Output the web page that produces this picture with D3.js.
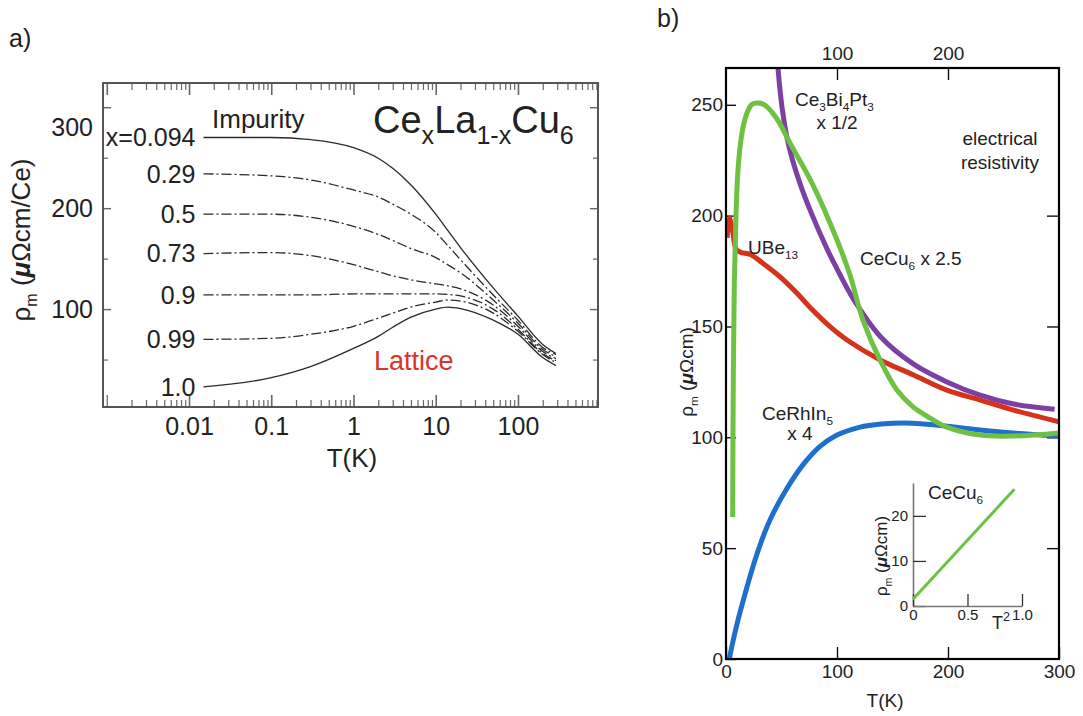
<!DOCTYPE html>
<html><head><meta charset="utf-8">
<script src="https://cdn.jsdelivr.net/npm/d3@7"></script>
<style>
body{margin:0;background:#fff;}
svg{display:block;}
</style></head><body>
<svg id="chart" width="1083" height="716"></svg>
<script>
// ---------- Panel a) data: CexLa1-xCu6, rho_m (uOhm cm / Ce) vs T (K), log T ----------
const tempA = [0.015, 0.1, 0.3, 1, 2, 3, 5, 10, 14, 20, 50, 100, 200, 290];
const rhoImp   = [270, 270, 268, 260, 249.5, 239.5, 223, 194, 178, 161, 121, 93, 65, 56];
const rho029   = [234, 232, 228, 218, 211, 204, 194, 176, 163, 149, 114, 89, 62, 55];
const rho05    = [194, 194, 191, 182, 174, 168, 160, 151, 144, 136, 109, 86, 60, 53];
const rho073   = [155, 156, 153, 144, 137, 133, 129, 125, 123, 120, 104, 83, 58, 51];
const rho09    = [114, 114, 114, 115, 115, 115, 115, 115, 114.5, 113, 100, 80, 56, 49];
const rho099   = [70, 71, 75, 83, 91, 96, 102, 107, 109, 108, 96, 78, 55, 47];
const rhoLat   = [23, 32, 43, 61, 73, 82, 92, 100, 102, 100.5, 89, 75, 52, 44];
const concLabels = ["x=0.094", "0.29", "0.5", "0.73", "0.9", "0.99", "1.0"];
const xTicksA = [0.01, 0.1, 1, 10, 100];
const xTickLabelsA = ["0.01", "0.1", "1", "10", "100"];
const yTicksA = [100, 200, 300];

// ---------- Panel b) data: rho_m (uOhm cm) vs T (K) ----------
const tempPurple = [46, 48, 51, 55, 60, 67, 77, 91, 100, 114, 139, 169, 199, 229, 259, 296];
const rhoPurple  = [272, 260, 247, 235, 225, 214, 201, 185, 176, 163, 145.5, 133, 125, 119, 115, 112.7];
const tempGreen = [6, 6.5, 7.5, 9, 11, 14, 18, 23.4, 28.8, 35, 46, 57.7, 78.4, 100, 111.7, 123.4, 138.7, 154, 168.5, 183.8, 199, 229, 259, 300];
const rhoGreen  = [64, 120, 170, 200, 222, 236, 245, 250.2, 250.8, 249.9, 243.6, 232.7, 213.8, 189, 173.2, 152.9, 134.9, 121.3, 113.7, 108.7, 104.6, 101, 100.6, 102];
const tempRed = [1, 3, 6, 9, 13, 22, 33, 49, 64, 78, 94, 109, 139, 169, 199, 229, 259, 300];
const rhoRed  = [190, 199, 193, 185, 183.5, 182.5, 178.6, 172.3, 165, 157.4, 149.8, 143.9, 134.9, 128.1, 121.3, 116.8, 112.3, 107];
const tempBlue = [3, 6.3, 12.6, 28, 39.6, 55, 70, 85, 100, 120, 140, 168, 199, 229, 259, 300];
const rhoBlue  = [0, 8, 21, 47.5, 62.7, 77, 88, 96, 101, 104.5, 106, 106.4, 105, 103.3, 101.9, 100.6];
const xTicksB = [0, 100, 200, 300];
const xTopTicksB = [100, 200];
const yTicksB = [0, 50, 100, 150, 200, 250];
const yRightTicksB = [50, 100, 150, 200];
// inset: CeCu6 rho vs T^2
const insetT2 = [0, 0.93];
const insetRho = [1.5, 25.9];
const insetXTicks = [0, 0.5, 1.0];
const insetXTickLabels = ["0", "0.5", "1.0"];
const insetYTicks = [0, 10, 20];

// ---------- helpers ----------
const FONT = "'Liberation Sans', Arial, Helvetica, sans-serif";
const svg = d3.select('#chart').attr('font-family', FONT);

function richText(g, x, y, parts, size, opts = {}) {
  const t = g.append('text').attr('font-size', size)
    .attr('text-anchor', opts.anchor || 'start').attr('fill', opts.fill || '#222');
  if (opts.rotate) t.attr('transform', `translate(${x},${y}) rotate(${opts.rotate})`);
  else t.attr('x', x).attr('y', y);
  let shift = 0;
  const subScale = opts.subScale || 0.62;
  parts.forEach(p => {
    const ts = t.append('tspan').text(p.t);
    const target = p.sub ? size * 0.28 : (p.sup ? -size * 0.42 : 0);
    if (target - shift !== 0) ts.attr('dy', target - shift);
    shift = target;
    if (p.sub || p.sup) ts.attr('font-size', size * subScale);
    if (p.bold) ts.attr('font-weight', 'bold');
    if (p.italic) ts.attr('font-style', 'italic');
  });
  return t;
}
function styleAxis(g, color, width, fsize, fill) {
  g.attr('font-family', null).attr('font-size', null);
  g.select('.domain').remove();
  g.selectAll('.tick line').attr('stroke', color).attr('stroke-width', width);
  g.selectAll('.tick text').attr('fill', fill || '#222').attr('font-size', fsize).attr('font-family', FONT);
}

// ================= Panel a =================
const gA = svg.append('g');
const xA = d3.scaleLog().domain([0.0009, 940]).range([103, 598]);
const yA = d3.scaleLinear().domain([3, 324]).range([407, 83]);
const A = {l: 103, r: 598, t: 83, b: 407};
const axisColA = '#666';

const minorA = [];
for (let e = -3; e <= 2; e++) for (let m = 2; m <= 9; m++) {
  const v = m * Math.pow(10, e);
  if (v >= 0.0009 && v <= 940) minorA.push(v);
}
const majorNoLab = [0.001];
const minorY = [50, 150, 250];

gA.append('g').attr('transform', `translate(0,${A.b})`)
  .call(d3.axisBottom(xA).tickValues(minorA).tickSize(-7).tickFormat(''))
  .call(g => styleAxis(g, axisColA, 1.2, 25));
gA.append('g').attr('transform', `translate(0,${A.b})`)
  .call(d3.axisBottom(xA).tickValues(majorNoLab).tickSize(-12).tickFormat(''))
  .call(g => styleAxis(g, axisColA, 1.2, 25));
gA.append('g').attr('transform', `translate(0,${A.b})`)
  .call(d3.axisBottom(xA).tickValues(xTicksA).tickSize(-12).tickPadding(10)
        .tickFormat((d, i) => xTickLabelsA[i]))
  .call(g => styleAxis(g, axisColA, 1.6, 25));
gA.append('g').attr('transform', `translate(0,${A.t})`)
  .call(d3.axisTop(xA).tickValues(minorA).tickSize(-7).tickFormat(''))
  .call(g => styleAxis(g, axisColA, 1.2, 25));
gA.append('g').attr('transform', `translate(0,${A.t})`)
  .call(d3.axisTop(xA).tickValues(majorNoLab.concat(xTicksA)).tickSize(-12).tickFormat(''))
  .call(g => styleAxis(g, axisColA, 1.6, 25));
gA.append('g').attr('transform', `translate(${A.l},0)`)
  .call(d3.axisLeft(yA).tickValues(minorY).tickSize(-5).tickFormat(''))
  .call(g => styleAxis(g, axisColA, 1.2, 25));
gA.append('g').attr('transform', `translate(${A.l},0)`)
  .call(d3.axisLeft(yA).tickValues(yTicksA).tickSize(-8).tickPadding(10))
  .call(g => styleAxis(g, axisColA, 1.4, 25))
  .call(g => g.selectAll('.tick text').filter(d => d === 300).attr('transform', 'translate(0,20)'));
gA.append('g').attr('transform', `translate(${A.r},0)`)
  .call(d3.axisRight(yA).tickValues(minorY).tickSize(-5).tickFormat(''))
  .call(g => styleAxis(g, axisColA, 1.2, 25));
gA.append('g').attr('transform', `translate(${A.r},0)`)
  .call(d3.axisRight(yA).tickValues(yTicksA).tickSize(-8).tickFormat(''))
  .call(g => styleAxis(g, axisColA, 1.4, 25));
gA.append('rect').attr('x', A.l).attr('y', A.t).attr('width', A.r - A.l).attr('height', A.b - A.t)
  .attr('fill', 'none').attr('stroke', '#555').attr('stroke-width', 2);

const seriesA = [
  {vals: rhoImp, dash: null},
  {vals: rho029, dash: '10,3,2,3'},
  {vals: rho05, dash: '10,3,2,3'},
  {vals: rho073, dash: '10,3,2,3'},
  {vals: rho09, dash: '10,3,2,3'},
  {vals: rho099, dash: '10,3,2,3'},
  {vals: rhoLat, dash: null}
];
const lineA = d3.line().x(d => xA(d[0])).y(d => yA(d[1])).curve(d3.curveMonotoneX);
seriesA.forEach((s, i) => {
  const pts = tempA.map((t, j) => [t, s.vals[j]]);
  gA.append('path').attr('d', lineA(pts)).attr('fill', 'none')
    .attr('stroke', '#2a2a2a').attr('stroke-width', 1.3)
    .attr('stroke-dasharray', s.dash);
  gA.append('text').attr('x', xA(tempA[0]) - 8).attr('y', yA(s.vals[0])).attr('dy', '0.35em')
    .attr('text-anchor', 'end').attr('font-size', 25).attr('fill', '#222').text(concLabels[i]);
});
gA.append('text').attr('x', 212).attr('y', 128).attr('font-size', 26).attr('fill', '#222').text('Impurity');
gA.append('text').attr('x', 374).attr('y', 370).attr('font-size', 27).attr('fill', '#d8352a').text('Lattice');
richText(gA, 373, 133, [{t: 'Ce'}, {t: 'x', sub: true}, {t: 'La'}, {t: '1-x', sub: true}, {t: 'Cu'}, {t: '6', sub: true}], 38, {subScale: 0.66});
gA.append('text').attr('x', 352).attr('y', 467).attr('text-anchor', 'middle').attr('font-size', 26).attr('fill', '#222').text('T(K)');
richText(gA, 30, 240, [{t: 'ρ'}, {t: 'm', sub: true}, {t: ' ('}, {t: 'μ', bold: true, italic: true}, {t: 'Ωcm/Ce)'}], 26, {anchor: 'middle', rotate: -90});
gA.append('text').attr('x', 9).attr('y', 47).attr('font-size', 25).attr('fill', '#222').text('a)');

// ================= Panel b =================
const gB = svg.append('g');
const B = {l: 726, r: 1059, t: 68, b: 659};
const xB = d3.scaleLinear().domain([0, 300]).range([B.l, B.r]);
const yB = d3.scaleLinear().domain([0, 266.6]).range([B.b, B.t]);

gB.append('g').attr('transform', `translate(${B.l},0)`)
  .call(d3.axisLeft(yB).tickValues(yTicksB).tickSize(-10).tickPadding(3))
  .call(g => styleAxis(g, '#111', 1.4, 19));
gB.append('g').attr('transform', `translate(${B.r},0)`)
  .call(d3.axisRight(yB).tickValues(yRightTicksB).tickSize(-12).tickFormat(''))
  .call(g => styleAxis(g, '#111', 1.4, 19));
gB.append('g').attr('transform', `translate(0,${B.b})`)
  .call(d3.axisBottom(xB).tickValues(xTicksB).tickSize(-12).tickPadding(6))
  .call(g => styleAxis(g, '#111', 1.4, 19));
gB.append('g').attr('transform', `translate(0,${B.t})`)
  .call(d3.axisTop(xB).tickValues(xTopTicksB).tickSize(-12).tickPadding(8))
  .call(g => styleAxis(g, '#111', 1.4, 19));

svg.append('defs').append('clipPath').attr('id', 'clipB').append('rect')
  .attr('x', B.l).attr('y', B.t).attr('width', B.r - B.l).attr('height', B.b - B.t);
const lineB = d3.line().x(d => xB(d[0])).y(d => yB(d[1])).curve(d3.curveCatmullRom.alpha(0.5));
const seriesB = [
  {t: tempBlue, r: rhoBlue, c: '#1f6fcc'},
  {t: tempPurple, r: rhoPurple, c: '#7c3fa3'},
  {t: tempRed, r: rhoRed, c: '#d4321a'},
  {t: tempGreen, r: rhoGreen, c: '#6fc143'}
];
const cg = gB.append('g').attr('clip-path', 'url(#clipB)');
seriesB.forEach(s => {
  cg.append('path').attr('d', lineB(s.t.map((t, i) => [t, s.r[i]])))
    .attr('fill', 'none').attr('stroke', s.c).attr('stroke-width', 5)
    .attr('stroke-linejoin', 'round').attr('stroke-linecap', 'butt');
});
gB.append('rect').attr('x', B.l).attr('y', B.t).attr('width', B.r - B.l).attr('height', B.b - B.t)
  .attr('fill', 'none').attr('stroke', '#000').attr('stroke-width', 2.2);

const fs = 19;
richText(gB, 795, 106, [{t: 'Ce'}, {t: '3', sub: true}, {t: 'Bi'}, {t: '4', sub: true}, {t: 'Pt'}, {t: '3', sub: true}], fs);
gB.append('text').attr('x', 837).attr('y', 129).attr('text-anchor', 'middle').attr('font-size', fs).attr('fill', '#222').text('x 1/2');
gB.append('text').attr('x', 1000).attr('y', 145).attr('text-anchor', 'middle').attr('font-size', fs).attr('fill', '#222').text('electrical');
gB.append('text').attr('x', 1000).attr('y', 169).attr('text-anchor', 'middle').attr('font-size', fs).attr('fill', '#222').text('resistivity');
richText(gB, 748, 254, [{t: 'UBe'}, {t: '13', sub: true}], fs);
richText(gB, 860, 265, [{t: 'CeCu'}, {t: '6', sub: true}, {t: ' x 2.5'}], fs);
richText(gB, 762, 420, [{t: 'CeRhIn'}, {t: '5', sub: true}], fs);
gB.append('text').attr('x', 800).attr('y', 440).attr('text-anchor', 'middle').attr('font-size', fs).attr('fill', '#222').text('x 4');
gB.append('text').attr('x', 885).attr('y', 707).attr('text-anchor', 'middle').attr('font-size', 19).attr('fill', '#222').text('T(K)');
richText(gB, 693, 372, [{t: 'ρ'}, {t: 'm', sub: true}, {t: ' ('}, {t: 'μ', bold: true, italic: true}, {t: 'Ωcm)'}], 19, {anchor: 'middle', rotate: -90});
svg.append('text').attr('x', 657).attr('y', 27).attr('font-size', 25).attr('fill', '#222').text('b)');

// ---- inset ----
const gI = gB.append('g');
const xI = d3.scaleLinear().domain([0, 1.0]).range([913, 1022]);
const yI = d3.scaleLinear().domain([0, 27.3]).range([606, 483]);
function styleInset(g) {
  g.attr('font-family', null).attr('font-size', null);
  g.select('.domain').attr('stroke', '#777').attr('stroke-width', 1.6);
  g.selectAll('.tick line').attr('stroke', '#333').attr('stroke-width', 1.3);
  g.selectAll('.tick text').attr('font-size', 15).attr('fill', '#222').attr('font-family', FONT);
}
gI.append('g').attr('transform', 'translate(913,0)')
  .call(d3.axisLeft(yI).tickValues(insetYTicks).tickSizeInner(-13).tickSizeOuter(0).tickPadding(5))
  .call(styleInset);
gI.append('g').attr('transform', 'translate(0,606)')
  .call(d3.axisBottom(xI).tickValues(insetXTicks).tickSizeInner(-12).tickSizeOuter(0).tickPadding(3)
        .tickFormat((d, i) => insetXTickLabels[i]))
  .call(styleInset);
gI.append('path').attr('d', d3.line().x(d => xI(d[0])).y(d => yI(d[1]))(insetT2.map((t, i) => [t, insetRho[i]])))
  .attr('fill', 'none').attr('stroke', '#6fc143').attr('stroke-width', 3);
richText(gI, 928, 499, [{t: 'CeCu'}, {t: '6', sub: true}], 19);
richText(gI, 992, 629, [{t: 'T'}, {t: '2', sup: true}], 18, {subScale: 0.7});
richText(gI, 887, 556, [{t: 'ρ'}, {t: 'm', sub: true}, {t: ' ('}, {t: 'μ', bold: true, italic: true}, {t: 'Ωcm)'}], 17, {anchor: 'middle', rotate: -90});
</script>
</body></html>
